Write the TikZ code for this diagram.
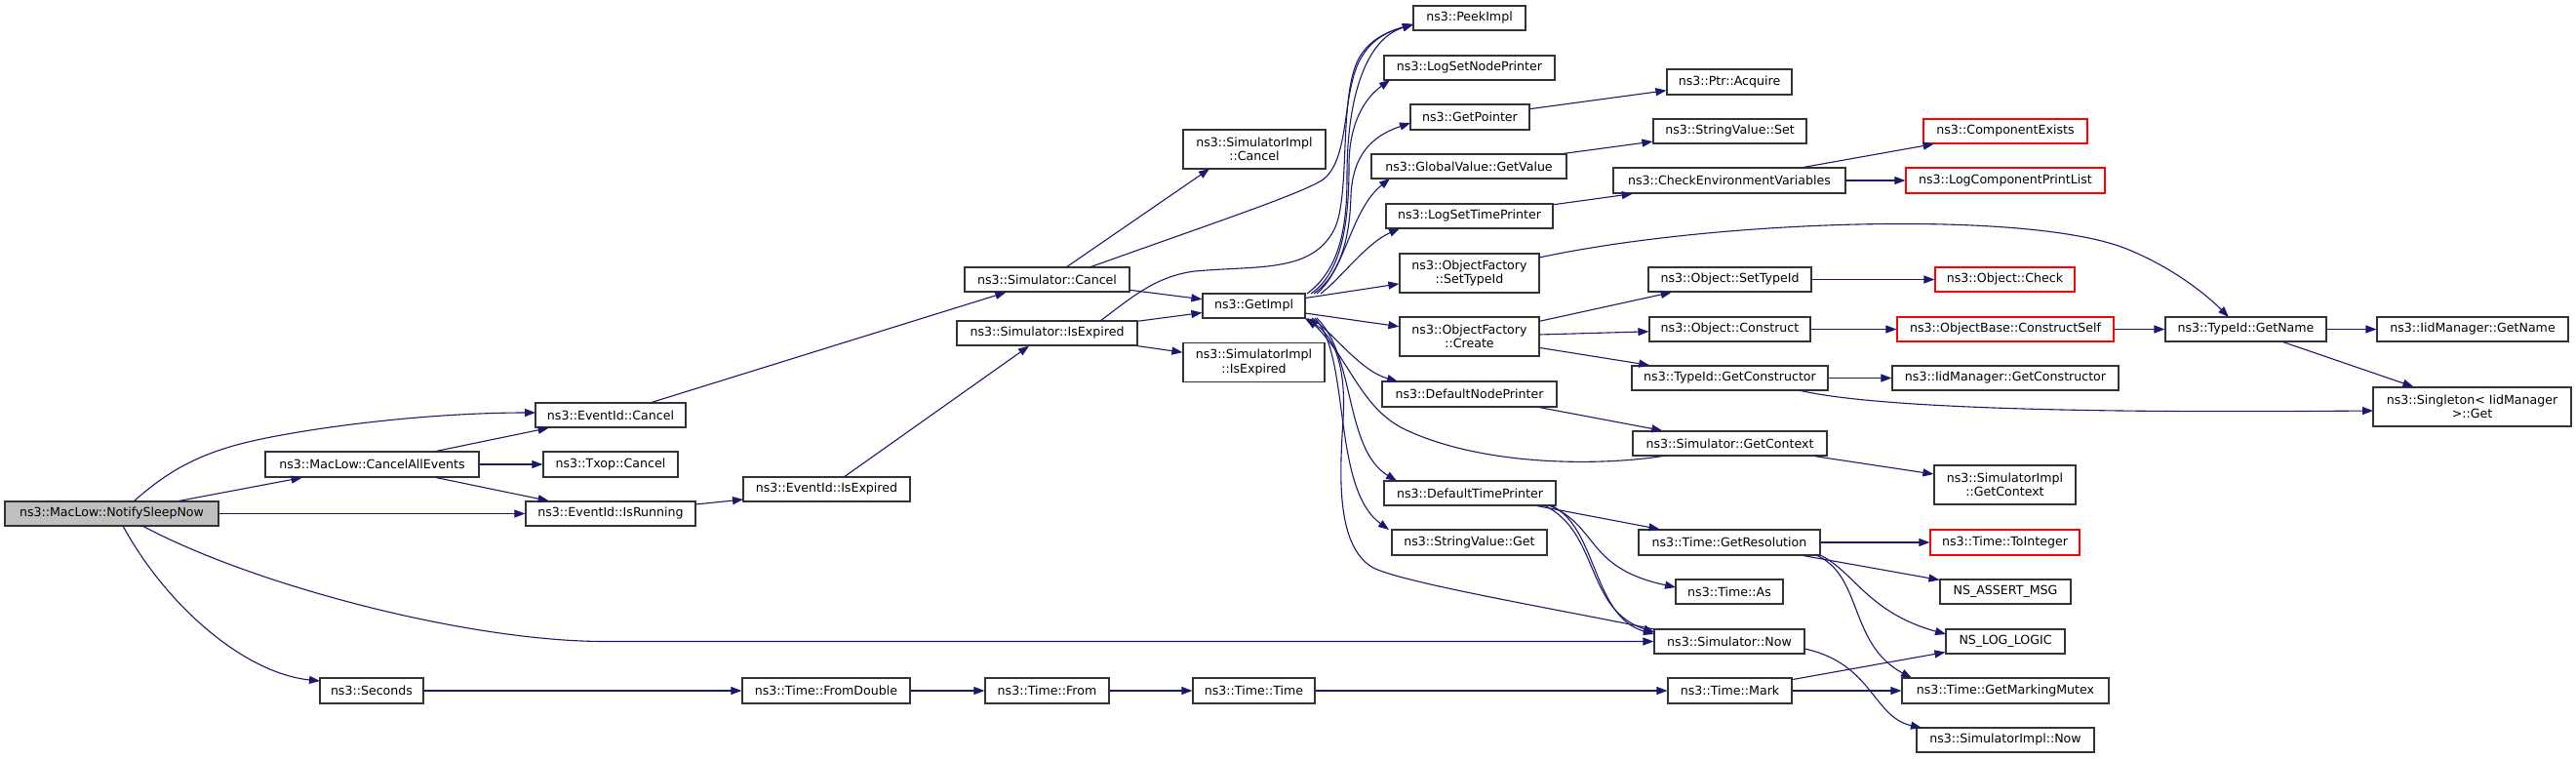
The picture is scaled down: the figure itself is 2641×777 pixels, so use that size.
\documentclass[tikz,border=0pt]{standalone}
\usepackage{fontspec}
\setmainfont{DejaVu Sans}
\usetikzlibrary{arrows.meta}
\definecolor{navyc}{HTML}{191970}
\definecolor{bordc}{HTML}{333333}
\definecolor{rootc}{HTML}{BFBFBF}
\definecolor{redc}{HTML}{FF0000}
\tikzset{
 box/.style={draw=bordc, line width=1.2pt, rectangle, inner sep=0pt, align=center, font=\fontsize{12.6}{14.5}\selectfont, fill=white},
 redbox/.style={draw=redc},
 rootbox/.style={fill=rootc},
 cl/.style={draw=navyc, line width=1.1pt, -{Triangle[length=11pt,width=8pt]}},
}
\newcommand{\bx}[7][]{\node[box,#1,minimum width=#5pt,minimum height=#6pt] (#2) at (#3,#4) {#7};}
\begin{document}
\begin{tikzpicture}[x=1pt,y=-1pt]
\useasboundingbox (0,0) rectangle (2641,777);
\bx[rootbox]{notify}{114.5}{526.5}{219}{25}{ns3::MacLow::NotifySleepNow}
\bx{cae}{381.5}{476}{219}{26}{ns3::MacLow::CancelAllEvents}
\bx{eidc}{626}{425.5}{154}{25}{ns3::EventId::Cancel}
\bx{txop}{626}{476}{138}{26}{ns3::Txop::Cancel}
\bx{eidr}{626}{526.5}{174}{25}{ns3::EventId::IsRunning}
\bx{sec}{381}{708}{106}{26}{ns3::Seconds}
\bx{eide}{847.5}{501.5}{171}{25}{ns3::EventId::IsExpired}
\bx{scan}{1073.5}{286.5}{169}{25}{ns3::Simulator::Cancel}
\bx{sise}{1073.5}{341.5}{185}{25}{ns3::Simulator::IsExpired}
\bx{sic}{1286}{153}{146}{40}{ns3::SimulatorImpl\\::Cancel}
\bx{getimpl}{1285.5}{313.5}{105}{25}{ns3::GetImpl}
\bx{sie}{1285.5}{371.5}{145}{40}{ns3::SimulatorImpl\\::IsExpired}
\bx{peek}{1506.5}{18.5}{115}{25}{ns3::PeekImpl}
\bx{lsnp}{1506.5}{69.5}{175}{25}{ns3::LogSetNodePrinter}
\bx{gptr}{1507}{120}{122}{26}{ns3::GetPointer}
\bx{gvgv}{1506}{170.5}{200}{25}{ns3::GlobalValue::GetValue}
\bx{lstp}{1506.5}{221.5}{171}{25}{ns3::LogSetTimePrinter}
\bx{ofst}{1506.5}{280}{143}{40}{ns3::ObjectFactory\\::SetTypeId}
\bx{ofcr}{1506.5}{345}{143}{40}{ns3::ObjectFactory\\::Create}
\bx{dnp}{1506.5}{404}{179}{26}{ns3::DefaultNodePrinter}
\bx{dtp}{1507}{505.5}{176}{25}{ns3::DefaultTimePrinter}
\bx{svg}{1506.5}{556}{159}{26}{ns3::StringValue::Get}
\bx{ptra}{1773}{84}{128}{26}{ns3::Ptr::Acquire}
\bx{svs}{1773.5}{134.5}{157}{25}{ns3::StringValue::Set}
\bx{cev}{1773}{185}{238}{26}{ns3::CheckEnvironmentVariables}
\bx{ost}{1773.5}{286.5}{167}{25}{ns3::Object::SetTypeId}
\bx{oc}{1773.5}{337.5}{165}{25}{ns3::Object::Construct}
\bx{tgc}{1773.5}{387.5}{201}{25}{ns3::TypeId::GetConstructor}
\bx{sgc}{1773.5}{454.5}{199}{25}{ns3::Simulator::GetContext}
\bx{tgr}{1773}{556}{186}{26}{ns3::Time::GetResolution}
\bx{tas}{1773}{606.5}{110}{25}{ns3::Time::As}
\bx{snow}{1773}{657.5}{154}{25}{ns3::Simulator::Now}
\bx{tmark}{1773.5}{708}{127}{26}{ns3::Time::Mark}
\bx[redbox]{cex}{2056}{134.5}{168}{25}{ns3::ComponentExists}
\bx[redbox]{lcpl}{2056}{185}{204}{26}{ns3::LogComponentPrintList}
\bx[redbox]{ochk}{2055.5}{286.5}{143}{25}{ns3::Object::Check}
\bx[redbox]{obcs}{2056}{337.5}{222}{25}{ns3::ObjectBase::ConstructSelf}
\bx{igc}{2056}{387.5}{232}{25}{ns3::IidManager::GetConstructor}
\bx{sigc}{2055.5}{497}{145}{40}{ns3::SimulatorImpl\\::GetContext}
\bx[redbox]{toint}{2055.5}{556}{153}{26}{ns3::Time::ToInteger}
\bx{nsa}{2056}{606.5}{134}{25}{NS\_ASSERT\_MSG}
\bx{nll}{2056}{657.5}{122}{25}{NS\_LOG\_LOGIC}
\bx{tgmm}{2056}{708}{212}{26}{ns3::Time::GetMarkingMutex}
\bx{sinow}{2056}{758.5}{182}{25}{ns3::SimulatorImpl::Now}
\bx{tgn}{2302.5}{337.5}{165}{25}{ns3::TypeId::GetName}
\bx{igname}{2535}{337.5}{196}{25}{ns3::IidManager::GetName}
\bx{sget}{2534.5}{417}{203}{40}{ns3::Singleton< IidManager\\>::Get}
\bx{tfd}{847}{708}{172}{26}{ns3::Time::FromDouble}
\bx{tfrom}{1073.5}{708}{127}{26}{ns3::Time::From}
\bx{ttime}{1285.5}{708}{125}{26}{ns3::Time::Time}
% edges
\draw[cl] ([shift={(22.5,-12.5)}]notify.center) .. controls (175,480) and (210,462) .. (268,450) .. controls (340,435) and (450,423) .. ([shift={(-77,-2.5)}]eidc.center);
\draw[cl] (notify) -- (cae);
\draw[cl] (notify) -- (eidr);
\draw[cl] ([shift={(31.5,12.5)}]notify.center) .. controls (260,600) and (480,657.5) .. (620,657.5) -- (snow.west);
\draw[cl] ([shift={(11.5,12.5)}]notify.center) .. controls (170,620) and (250,690) .. ([shift={(-53,-10)}]sec.center);
\draw[cl] (cae) -- (eidc);
\draw[cl] (cae) -- (txop);
\draw[cl] (cae) -- (eidr);
\draw[cl] (eidc) -- (scan);
\draw[cl] ([shift={(87,-9.5)}]eidr.center) -- ([shift={(-85.5,10.5)}]eide.center);
\draw[cl] (eide) -- (sise);
\draw[cl] ([shift={(19.5,-12.5)}]scan.center) -- ([shift={(-46,20)}]sic.center);
\draw[cl] (scan) -- (getimpl);
\draw[cl] ([shift={(43.5,-12.5)}]scan.center) .. controls (1240,230) and (1330,200) .. (1355,185) .. controls (1385,165) and (1375,95) .. (1395,60) .. controls (1405,42) and (1420,33) .. ([shift={(-57.5,6.5)}]peek.center);
\draw[cl] (sise) -- (getimpl);
\draw[cl] (sise) -- (sie);
\draw[cl] ([shift={(54.5,-12.5)}]sise.center) .. controls (1160,305) and (1185,283) .. (1225,278) .. controls (1290,272) and (1345,280) .. (1368,235) .. controls (1385,200) and (1372,100) .. (1393,60) .. controls (1403,42) and (1420,33) .. ([shift={(-57.5,6.5)}]peek.center);
\draw[cl] ([shift={(54.5,-12.5)}]getimpl.center) .. controls (1375,275) and (1381,230) .. (1381,180) .. controls (1381,100) and (1400,40) .. ([shift={(-57.5,6.5)}]peek.center);
\draw[cl] ([shift={(58.5,-12.5)}]getimpl.center) .. controls (1378,278) and (1383,220) .. (1383,170) .. controls (1383,125) and (1400,100) .. ([shift={(-81.5,12.5)}]lsnp.center);
\draw[cl] ([shift={(61.5,-12.5)}]getimpl.center) .. controls (1376,280) and (1384,240) .. (1385,200) .. controls (1387,160) and (1405,140) .. ([shift={(-61,6)}]gptr.center);
\draw[cl] ([shift={(64.5,-12.5)}]getimpl.center) .. controls (1380,275) and (1385,215) .. ([shift={(-81,12.5)}]gvgv.center);
\draw[cl] ([shift={(68.5,-12.5)}]getimpl.center) .. controls (1375,285) and (1400,250) .. ([shift={(-71.5,12.5)}]lstp.center);
\draw[cl] (getimpl) -- (ofst);
\draw[cl] (getimpl) -- (ofcr);
\draw[cl] ([shift={(59.5,12.5)}]getimpl.center) .. controls (1370,345) and (1395,380) .. ([shift={(-73.5,-13)}]dnp.center);
\draw[cl] ([shift={(-65.5,12.5)}]sgc.center) .. controls (1640,478) and (1520,478) .. (1440,440) .. controls (1395,418) and (1385,370) .. ([shift={(55,12.5)}]getimpl.center);
\draw[cl] ([shift={(64.5,12.5)}]getimpl.center) .. controls (1390,365) and (1378,460) .. ([shift={(-75,-12.5)}]dtp.center);
\draw[cl] ([shift={(62.5,12.5)}]getimpl.center) .. controls (1385,365) and (1365,500) .. ([shift={(-82.5,-13)}]svg.center);
\draw[cl] ([shift={(-77,-12.5)}]snow.center) .. controls (1600,625) and (1440,598) .. (1408,582) .. controls (1368,560) and (1374,480) .. (1377,430) .. controls (1380,380) and (1370,345) .. ([shift={(52,12.5)}]getimpl.center);
\draw[cl] (dnp) -- (sgc);
\draw[cl] (gptr) -- (ptra);
\draw[cl] (gvgv) -- (svs);
\draw[cl] (lstp) -- (cev);
\draw[cl] (cev) -- (cex);
\draw[cl] (cev) -- (lcpl);
\draw[cl] ([shift={(71.5,-16)}]ofst.center) .. controls (1760,225) and (2080,215) .. (2180,255) .. controls (2230,275) and (2265,305) .. ([shift={(-17.5,-12.5)}]tgn.center);
\draw[cl] (ofcr) -- (ost);
\draw[cl] (ofcr) -- (oc);
\draw[cl] (ofcr) -- (tgc);
\draw[cl] (ost) -- (ochk);
\draw[cl] (oc) -- (obcs);
\draw[cl] (obcs) -- (tgn);
\draw[cl] (tgn) -- (igname);
\draw[cl] (tgn) -- (sget);
\draw[cl] (tgc) -- (igc);
\draw[cl] ([shift={(70.5,12.5)}]tgc.center) .. controls (1950,425) and (2300,422) .. ([shift={(-101.5,4)}]sget.center);
\draw[cl] (sgc) -- (sigc);
\draw[cl] (dtp) -- (tgr);
\draw[cl] ([shift={(81,12.5)}]dtp.center) .. controls (1640,540) and (1625,582) .. ([shift={(-55,-4.5)}]tas.center);
\draw[cl] ([shift={(76,12.5)}]dtp.center) .. controls (1640,545) and (1625,625) .. ([shift={(-77,-9.5)}]snow.center);
\draw[cl] ([shift={(83,12.5)}]dtp.center) .. controls (1638,540) and (1632,632) .. ([shift={(-77,-7.5)}]snow.center);
\draw[cl] (tgr) -- (toint);
\draw[cl] (tgr) -- (nsa);
\draw[cl] ([shift={(93,13)}]tgr.center) .. controls (1900,585) and (1915,628) .. ([shift={(-61,-7.5)}]nll.center);
\draw[cl] ([shift={(89,13)}]tgr.center) .. controls (1910,590) and (1895,660) .. ([shift={(-96,-13)}]tgmm.center);
\draw[cl] (tmark) -- (nll);
\draw[cl] (tmark) -- (tgmm);
\draw[cl] ([shift={(77,7.5)}]snow.center) .. controls (1920,680) and (1920,735) .. ([shift={(-86,-12.5)}]sinow.center);
\draw[cl] (sec) -- (tfd);
\draw[cl] (tfd) -- (tfrom);
\draw[cl] (tfrom) -- (ttime);
\draw[cl] (ttime) -- (tmark);
\end{tikzpicture}
\end{document}
